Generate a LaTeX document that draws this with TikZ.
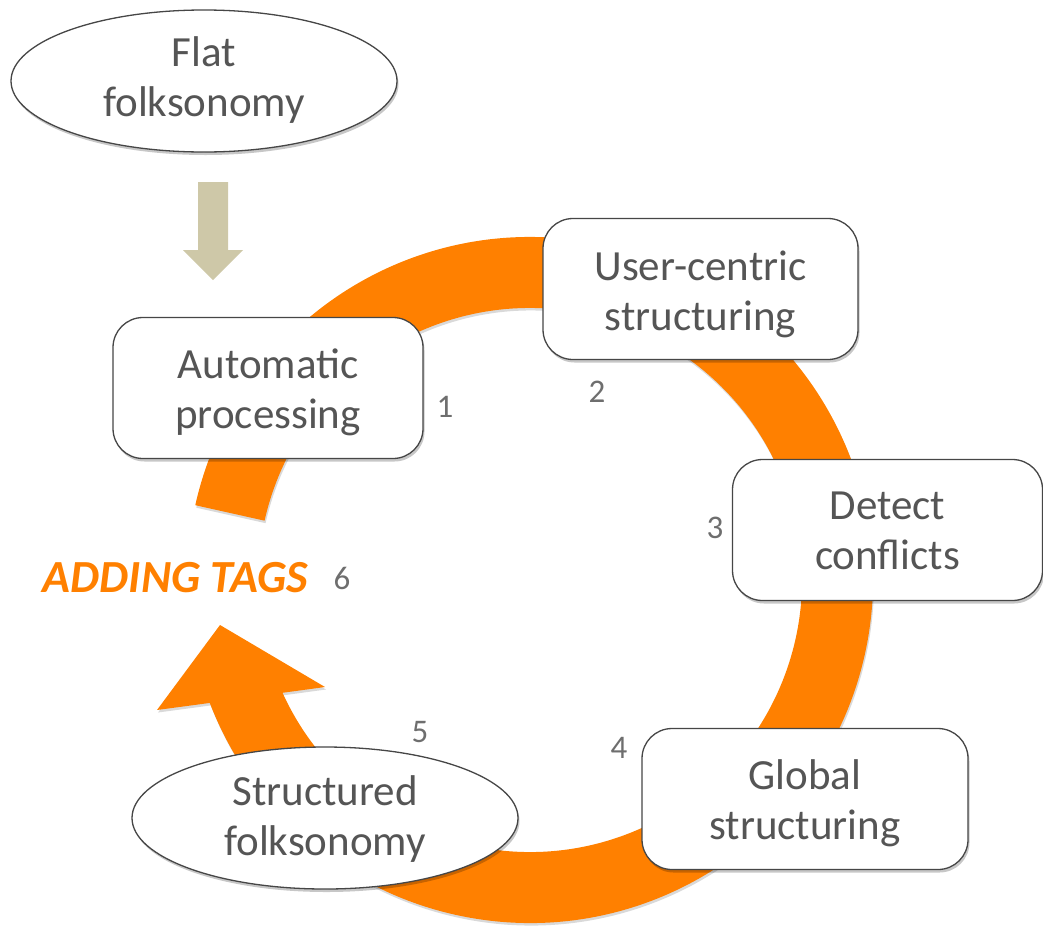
\documentclass[tikz,border=0pt]{standalone}
\usepackage{fontspec}
\setmainfont{Carlito}
\usetikzlibrary{shapes.geometric,shadows,calc}
\definecolor{ringorange}{RGB}{255,128,0}
\definecolor{txtgrey}{RGB}{85,85,85}
\definecolor{numgrey}{RGB}{110,110,110}
\definecolor{edgegrey}{RGB}{70,70,70}
\definecolor{arrowtan}{RGB}{206,200,168}
\newcommand{\mytwolines}[3]{\raisebox{-#1}[\height][\depth]{\begin{tabular}{@{}c@{}}#2\\#3\end{tabular}}}
\begin{document}
\begin{tikzpicture}[x=1pt,y=-1pt,
  boxshadow/.style={drop shadow={shadow xshift=1.5pt, shadow yshift=-3pt, opacity=0.22, fill=black}},
  stepbox/.style={draw=edgegrey, line width=1.3pt, fill=white, rounded corners=30pt,
    minimum width=310pt, minimum height=141pt, text=txtgrey,
    font=\fontsize{43}{50}\selectfont, inner sep=0pt, boxshadow},
  oval/.style={ellipse, draw=edgegrey, line width=1.3pt, fill=white,
    minimum width=386pt, minimum height=142pt, text=txtgrey,
    font=\fontsize{43}{50}\selectfont, inner sep=0pt, boxshadow},
  num/.style={text=numgrey, font=\fontsize{33}{38}\selectfont, inner sep=0pt},
  ]
\useasboundingbox (0,0) rectangle (1043,927);

% cycle arrow
\coordinate (c) at (530,580);
\fill[ringorange, preaction={fill=black, opacity=0.15, transform canvas={xshift=1pt,yshift=-2.5pt}}]
  ($(c)+(192.6:343)$) arc[start angle=192.6, end angle=519, radius=343]
  -- (157,710) -- (220,625) -- (325,687)
  -- ($(c)+(515.5:272)$) arc[start angle=515.5, end angle=192.6, radius=272] -- cycle;

% input arrow
\fill[arrowtan] (198,182) -- (228,182) -- (228,250) -- (243,250) -- (213,280)
  -- (183,250) -- (198,250) -- cycle;

\node[oval] (flat) at (204,81) {\mytwolines{0pt}{Flat}{folksonomy}};
\node[stepbox] (auto) at (268,388) {\mytwolines{5pt}{Automatic}{processing}};
\node[stepbox, minimum width=315pt] (user) at (700.5,289) {\mytwolines{6pt}{User-centric}{structuring}};
\node[stepbox] (detect) at (887.5,530) {\mytwolines{4pt}{Detect}{conflicts}};
\node[stepbox, minimum width=326pt] (global) at (805,799) {\mytwolines{5pt}{Global}{structuring}};
\node[oval] (struct) at (325,818) {\mytwolines{2pt}{Structured}{folksonomy}};

\node[num] (n1) at (445,407) {1};
\node[num] (n2) at (597,392) {2};
\node[num] (n3) at (715,528) {3};
\node[num] (n4) at (619,748) {4};
\node[num] (n5) at (420,732) {5};
\node[num] (n6) at (342,578) {6};
\node[text=ringorange, font=\fontsize{46}{52}\selectfont\bfseries\itshape, inner sep=0pt] (tags) at (175.5,578) {ADDING TAGS};
\end{tikzpicture}
\end{document}
